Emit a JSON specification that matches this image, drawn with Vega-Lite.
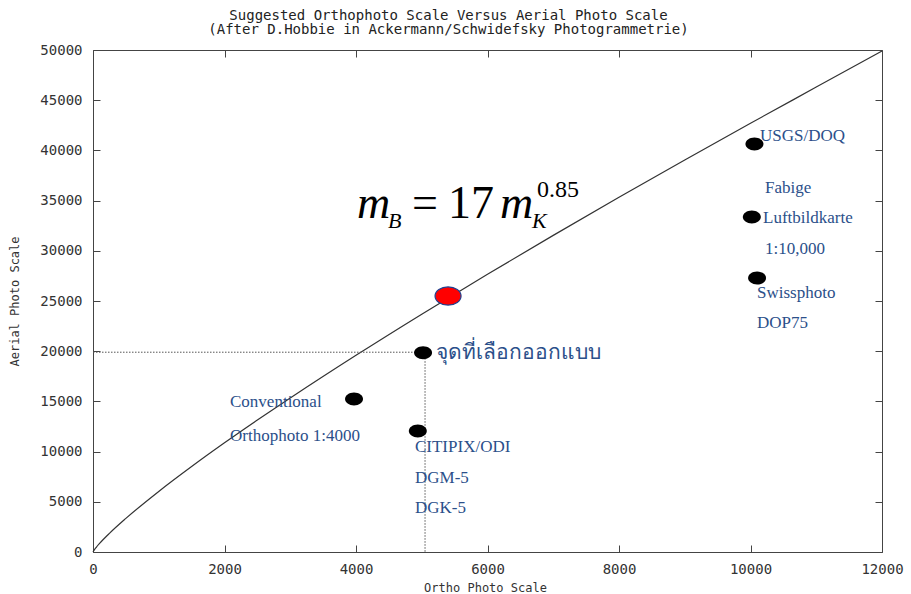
{
  "$schema": "https://vega.github.io/schema/vega-lite/v6.json",
  "width": 789,
  "height": 502,
  "autosize": {"type": "none"},
  "padding": {"left": 93, "top": 50, "right": 29, "bottom": 42},
  "background": "white",
  "title": {
    "text": ["Suggested Orthophoto Scale Versus Aerial Photo Scale", "(After D.Hobbie in Ackermann/Schwidefsky Photogrammetrie)"],
    "font": "DejaVu Sans Mono",
    "fontSize": 14,
    "fontWeight": "normal",
    "color": "#222",
    "anchor": "middle",
    "dx": -39,
    "offset": 6,
    "lineHeight": 14.5
  },
  "config": {
    "view": {"stroke": null},
    "axis": {
      "grid": false,
      "domainColor": "#444",
      "tickColor": "#444",
      "labelFont": "DejaVu Sans Mono",
      "labelFontSize": 14,
      "labelColor": "#333",
      "labelFlush": false,
      "titleFont": "DejaVu Sans Mono",
      "titleFontSize": 12,
      "titleFontWeight": "normal",
      "titleColor": "#333",
      "tickSize": -7
    }
  },
  "datasets": {
    "curve": [
      {"ortho": 0, "aerial": 0},
      {"ortho": 25, "aerial": 262},
      {"ortho": 50, "aerial": 473},
      {"ortho": 100, "aerial": 851},
      {"ortho": 250, "aerial": 1857},
      {"ortho": 500, "aerial": 3346},
      {"ortho": 1000, "aerial": 6032},
      {"ortho": 1500, "aerial": 8510},
      {"ortho": 2000, "aerial": 10871},
      {"ortho": 2500, "aerial": 13138},
      {"ortho": 3000, "aerial": 15339},
      {"ortho": 4000, "aerial": 19594},
      {"ortho": 5000, "aerial": 23691},
      {"ortho": 6000, "aerial": 27662},
      {"ortho": 7000, "aerial": 31535},
      {"ortho": 8000, "aerial": 35324},
      {"ortho": 9000, "aerial": 39047},
      {"ortho": 10000, "aerial": 42702},
      {"ortho": 11000, "aerial": 46305},
      {"ortho": 12000, "aerial": 49910}
    ],
    "guides": [
      {"x1": 0, "x2": 5050, "y1": 19900, "y2": 19900},
      {"x1": 5050, "x2": 5050, "y1": 19900, "y2": 0}
    ],
    "points": [
      {"name": "USGS/DOQ", "ortho": 10060, "aerial": 40640},
      {"name": "Fabige Luftbildkarte 1:10,000", "ortho": 10020, "aerial": 33370},
      {"name": "Swissphoto DOP75", "ortho": 10100, "aerial": 27290},
      {"name": "จุดที่เลือกออกแบบ", "ortho": 5020, "aerial": 19850},
      {"name": "Conventional Orthophoto 1:4000", "ortho": 3970, "aerial": 15240},
      {"name": "CITIPIX/ODI DGM-5 DGK-5", "ortho": 4940, "aerial": 12050}
    ],
    "selected": [
      {"name": "design", "ortho": 5400, "aerial": 25500}
    ],
    "labels": [
      {"text": "USGS/DOQ", "ortho": 10144, "aerial": 41400},
      {"text": "Fabige", "ortho": 10221, "aerial": 36250},
      {"text": "Luftbildkarte", "ortho": 10190, "aerial": 33270},
      {"text": "1:10,000", "ortho": 10221, "aerial": 30180},
      {"text": "Swissphoto", "ortho": 10099, "aerial": 25800},
      {"text": "DOP75", "ortho": 10099, "aerial": 22810},
      {"text": "Conventional", "ortho": 2084, "aerial": 14940},
      {"text": "Orthophoto 1:4000", "ortho": 2084, "aerial": 11550},
      {"text": "CITIPIX/ODI", "ortho": 4897, "aerial": 10460},
      {"text": "DGM-5", "ortho": 4897, "aerial": 7370},
      {"text": "DGK-5", "ortho": 4897, "aerial": 4380}
    ],
    "thai": [
      {"text": "จุดที่เลือกออกแบบ", "ortho": 5217, "aerial": 19820}
    ],
    "eqItalicBig": [
      {"text": "m", "ortho": 4015, "aerial": 33266},
      {"text": "m", "ortho": 6190, "aerial": 33266}
    ],
    "eqItalicSmall": [
      {"text": "B", "ortho": 4487, "aerial": 32270},
      {"text": "K", "ortho": 6677, "aerial": 32270}
    ],
    "eqBig": [
      {"text": "=", "ortho": 4852, "aerial": 33266},
      {"text": "17", "ortho": 5399, "aerial": 33266}
    ],
    "eqSmall": [
      {"text": "0.85", "ortho": 6753, "aerial": 35358}
    ]
  },
  "resolve": {"axis": {"x": "independent", "y": "independent"}},
  "layer": [
    {
      "data": {"name": "curve"},
      "mark": {"type": "line", "color": "#333", "strokeWidth": 1.2, "interpolate": "monotone"},
      "encoding": {
        "x": {"field": "ortho", "type": "quantitative", "scale": {"domain": [0, 12000], "nice": false},
          "axis": {"orient": "bottom", "values": [0, 2000, 4000, 6000, 8000, 10000, 12000], "format": "d", "title": "Ortho Photo Scale", "labelPadding": 17, "titleX": 392, "titleY": 35, "titleBaseline": "middle", "titleAnchor": null}},
        "y": {"field": "aerial", "type": "quantitative", "scale": {"domain": [0, 50000], "nice": false},
          "axis": {"orient": "left", "values": [0, 5000, 10000, 15000, 20000, 25000, 30000, 35000, 40000, 45000, 50000], "format": "d", "title": "Aerial Photo Scale", "labelPadding": 18, "titleX": -79, "titleY": 251, "titleBaseline": "middle", "titleAnchor": null}}
      }
    },
    {
      "data": {"name": "guides"},
      "mark": {"type": "rule", "color": "#555", "strokeWidth": 1, "strokeDash": [1.5, 1.5]},
      "encoding": {
        "x": {"field": "x1", "type": "quantitative", "axis": {"orient": "top", "labels": false, "title": null, "values": [0, 2000, 4000, 6000, 8000, 10000, 12000]}},
        "x2": {"field": "x2"},
        "y": {"field": "y1", "type": "quantitative", "axis": {"orient": "right", "labels": false, "title": null, "values": [0, 5000, 10000, 15000, 20000, 25000, 30000, 35000, 40000, 45000, 50000]}},
        "y2": {"field": "y2"}
      }
    },
    {
      "data": {"name": "points"},
      "mark": {"type": "point", "shape": "M-1,0A1,0.72 0 1,0 1,0A1,0.72 0 1,0 -1,0Z", "size": 324, "filled": true, "color": "black", "opacity": 1},
      "encoding": {
        "x": {"field": "ortho", "type": "quantitative", "axis": null},
        "y": {"field": "aerial", "type": "quantitative", "axis": null}
      }
    },
    {
      "data": {"name": "selected"},
      "mark": {"type": "point", "shape": "M-1,0A1,0.7 0 1,0 1,0A1,0.7 0 1,0 -1,0Z", "size": 676, "filled": true, "fill": "#ff0000", "stroke": "#1f3f8f", "strokeWidth": 1.2, "opacity": 1},
      "encoding": {
        "x": {"field": "ortho", "type": "quantitative", "axis": null},
        "y": {"field": "aerial", "type": "quantitative", "axis": null}
      }
    },
    {
      "data": {"name": "labels"},
      "mark": {"type": "text", "font": "Liberation Serif", "fontSize": 17, "color": "#2b4f8a", "align": "left", "baseline": "middle"},
      "encoding": {
        "x": {"field": "ortho", "type": "quantitative", "axis": null},
        "y": {"field": "aerial", "type": "quantitative", "axis": null},
        "text": {"field": "text"}
      }
    },
    {
      "data": {"name": "thai"},
      "mark": {"type": "text", "font": "Liberation Serif", "fontSize": 21, "color": "#2b4f8a", "align": "left", "baseline": "middle"},
      "encoding": {
        "x": {"field": "ortho", "type": "quantitative", "axis": null},
        "y": {"field": "aerial", "type": "quantitative", "axis": null},
        "text": {"field": "text"}
      }
    },
    {
      "data": {"name": "eqItalicBig"},
      "mark": {"type": "text", "font": "Liberation Serif", "fontStyle": "italic", "fontSize": 46, "color": "black", "align": "left", "baseline": "alphabetic"},
      "encoding": {
        "x": {"field": "ortho", "type": "quantitative", "axis": null},
        "y": {"field": "aerial", "type": "quantitative", "axis": null},
        "text": {"field": "text"}
      }
    },
    {
      "data": {"name": "eqItalicSmall"},
      "mark": {"type": "text", "font": "Liberation Serif", "fontStyle": "italic", "fontSize": 22, "color": "black", "align": "left", "baseline": "alphabetic"},
      "encoding": {
        "x": {"field": "ortho", "type": "quantitative", "axis": null},
        "y": {"field": "aerial", "type": "quantitative", "axis": null},
        "text": {"field": "text"}
      }
    },
    {
      "data": {"name": "eqBig"},
      "mark": {"type": "text", "font": "Liberation Serif", "fontSize": 46, "color": "black", "align": "left", "baseline": "alphabetic"},
      "encoding": {
        "x": {"field": "ortho", "type": "quantitative", "axis": null},
        "y": {"field": "aerial", "type": "quantitative", "axis": null},
        "text": {"field": "text"}
      }
    },
    {
      "data": {"name": "eqSmall"},
      "mark": {"type": "text", "font": "Liberation Serif", "fontSize": 24, "color": "black", "align": "left", "baseline": "alphabetic"},
      "encoding": {
        "x": {"field": "ortho", "type": "quantitative", "axis": null},
        "y": {"field": "aerial", "type": "quantitative", "axis": null},
        "text": {"field": "text"}
      }
    }
  ]
}
